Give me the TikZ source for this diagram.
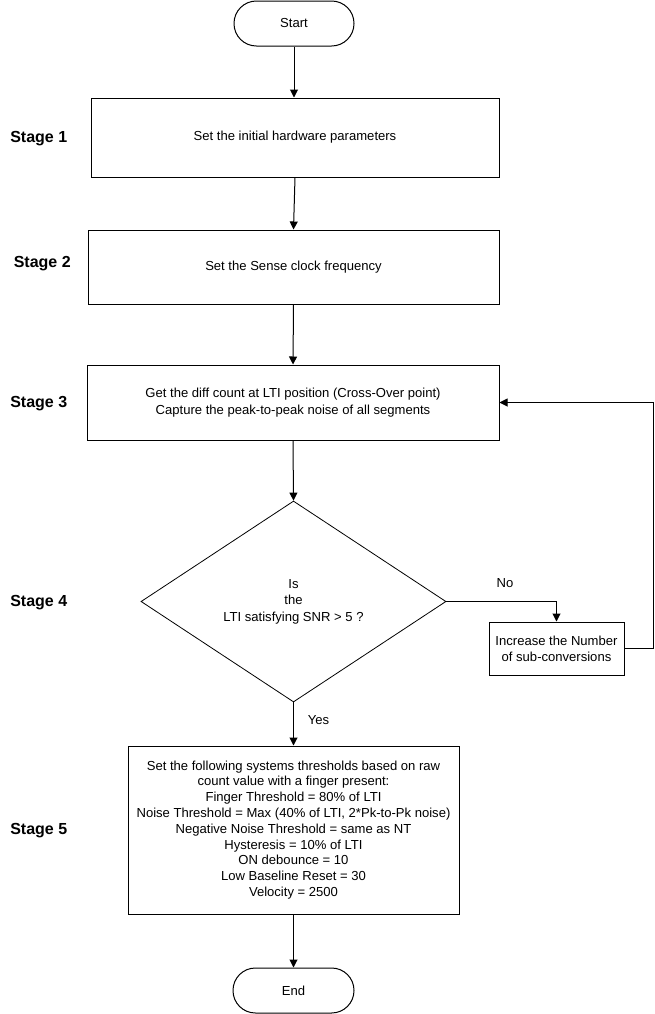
\documentclass[tikz,border=0pt]{standalone}
\usepackage{fontspec}
\setmainfont{Liberation Sans}
\usetikzlibrary{shapes.geometric,arrows.meta}
\begin{document}
\begin{tikzpicture}[x=0.75pt,y=-0.75pt,
  every node/.style={font=\fontsize{9.8}{12}\selectfont, text=black},
  box/.style={draw=black, line width=0.75pt, rectangle, inner sep=0pt, align=center},
  term/.style={draw=black, line width=0.75pt, rectangle, rounded corners=16.8pt, inner sep=0pt, align=center},
  decide/.style={draw=black, line width=0.6pt, diamond, inner sep=0pt, align=center},
  stagelbl/.style={anchor=west, inner sep=0pt, font=\fontsize{12}{14}\selectfont\bfseries},
  lbl/.style={font=\fontsize{9.8}{11}\selectfont},
  flow/.style={draw=black, line width=0.75pt, -{Triangle[length=6pt,width=6pt]}},
  plainline/.style={draw=black, line width=0.75pt}
]
\useasboundingbox (0,0) rectangle (655,1014);

\node[term, minimum width=90pt, minimum height=33.75pt] (start) at (294,23.5) {Start};
\node[box, minimum width=306pt, minimum height=59.25pt] (b1) at (295,137.5) {Set the initial hardware parameters};
\node[box, minimum width=308.25pt, minimum height=55.5pt] (b2) at (293.5,267) {Set the Sense clock frequency};
\node[box, minimum width=309pt, minimum height=56.25pt, font=\fontsize{9.8}{12.75}\selectfont] (b3) at (293,402.5)
  {Get the diff count at LTI position (Cross-Over point)\\Capture the peak-to-peak noise of all segments};
\node[decide, minimum width=228.75pt, minimum height=150.75pt, font=\fontsize{9.8}{12.4}\selectfont] (d) at (293.5,601.5)
  {Is\\the\\LTI satisfying SNR > 5 ?};
\node[box, minimum width=101.25pt, minimum height=39.75pt] (inc) at (556.5,648.5)
  {Increase the Number\\of sub-conversions};
\node[box, minimum width=248.25pt, minimum height=126pt, font=\fontsize{9.8}{11.85}\selectfont] (b5) at (293.5,830)
  {Set the following systems thresholds based on raw\\count value with a finger present:\\Finger Threshold = 80\% of LTI\\Noise Threshold = Max (40\% of LTI, 2*Pk-to-Pk noise)\\Negative Noise Threshold = same as NT\\Hysteresis = 10\% of LTI\\ON debounce = 10\\Low Baseline Reset = 30\\Velocity = 2500};
\node[term, minimum width=90.75pt, minimum height=33.75pt] (end) at (293.5,990.5) {End};

\node[stagelbl] (s1) at (10,138.5) {Stage 1};
\node[stagelbl] (s2) at (13.5,263.5) {Stage 2};
\node[stagelbl] (s3) at (10,403.5) {Stage 3};
\node[stagelbl] (s4) at (10,602.5) {Stage 4};
\node[stagelbl] (s5) at (10,830.5) {Stage 5};

\coordinate (loopc) at (653,402.5);

\draw[flow] (start.south) -- (start.south |- b1.north);
\draw[flow] (b1.south) -- (b2.north);
\draw[flow] (b2.south) -- (b3.north);
\draw[flow] (b3.south) -- (d.north);
\draw[flow] (d.south) -- (b5.north) node[lbl, pos=0.4, right=7pt] (yes) {Yes};
\draw[flow] (b5.south) -- (end.north);
\draw[flow] (d.east) -| (inc.north);
\node[lbl] (no) at (505,583) {No};
\draw[flow] (inc.east) -| (loopc) -- (b3.east);
\end{tikzpicture}
\end{document}
